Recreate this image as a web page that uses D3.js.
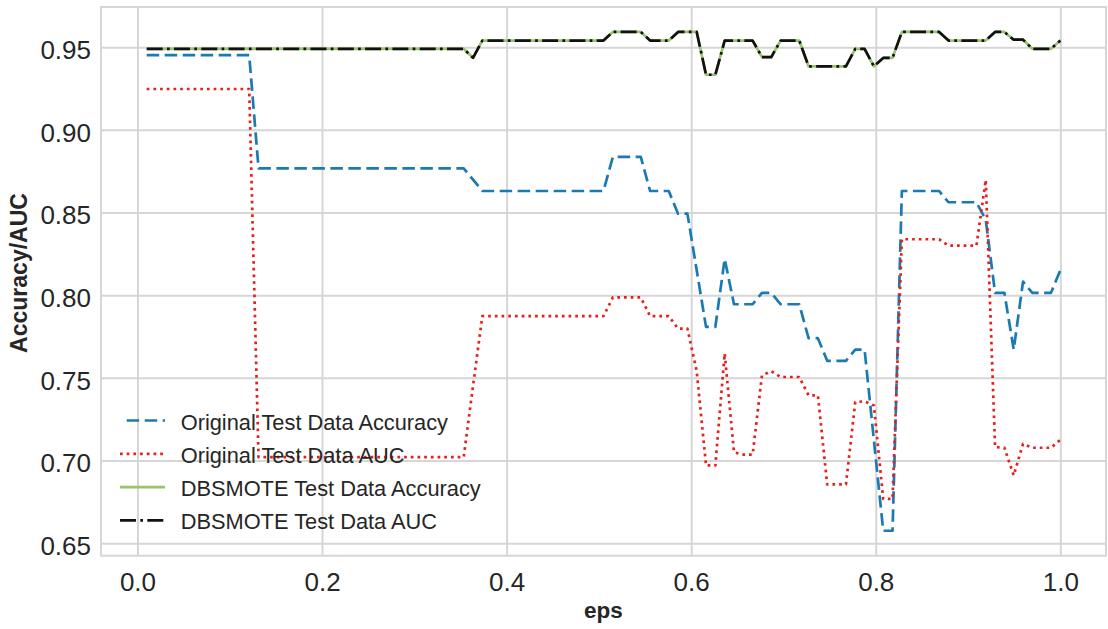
<!DOCTYPE html>
<html>
<head>
<meta charset="utf-8">
<script src="https://cdn.jsdelivr.net/npm/d3@7"></script>
<style>
  html, body { margin: 0; padding: 0; background: #ffffff; }
  svg { display: block; font-family: "Liberation Sans", Arial, Helvetica, sans-serif; }
</style>
</head>
<body>
<svg id="chart" width="1108" height="629"></svg>
<script>
// eps values on the x axis (99 evenly spaced settings from 0.01 to 1.0)
const eps = [
  0.0100, 0.0201, 0.0302, 0.0403, 0.0504, 0.0605, 0.0706, 0.0807, 0.0908, 0.1009,
  0.1110, 0.1211, 0.1312, 0.1413, 0.1514, 0.1615, 0.1716, 0.1817, 0.1918, 0.2019,
  0.2120, 0.2221, 0.2322, 0.2423, 0.2524, 0.2626, 0.2727, 0.2828, 0.2929, 0.3030,
  0.3131, 0.3232, 0.3333, 0.3434, 0.3535, 0.3636, 0.3737, 0.3838, 0.3939, 0.4040,
  0.4141, 0.4242, 0.4343, 0.4444, 0.4545, 0.4646, 0.4747, 0.4848, 0.4949, 0.5050,
  0.5151, 0.5252, 0.5353, 0.5454, 0.5555, 0.5656, 0.5757, 0.5858, 0.5959, 0.6060,
  0.6161, 0.6262, 0.6363, 0.6464, 0.6565, 0.6666, 0.6767, 0.6868, 0.6969, 0.7070,
  0.7171, 0.7272, 0.7373, 0.7474, 0.7576, 0.7677, 0.7778, 0.7879, 0.7980, 0.8081,
  0.8182, 0.8283, 0.8384, 0.8485, 0.8586, 0.8687, 0.8788, 0.8889, 0.8990, 0.9091,
  0.9192, 0.9293, 0.9394, 0.9495, 0.9596, 0.9697, 0.9798, 0.9899, 1.0000
];

// Original test data accuracy
const origAcc = [
  0.9452, 0.9452, 0.9452, 0.9452, 0.9452, 0.9452, 0.9452, 0.9452, 0.9452, 0.9452,
  0.9452, 0.9452, 0.8767, 0.8767, 0.8767, 0.8767, 0.8767, 0.8767, 0.8767, 0.8767,
  0.8767, 0.8767, 0.8767, 0.8767, 0.8767, 0.8767, 0.8767, 0.8767, 0.8767, 0.8767,
  0.8767, 0.8767, 0.8767, 0.8767, 0.8767, 0.8699, 0.8630, 0.8630, 0.8630, 0.8630,
  0.8630, 0.8630, 0.8630, 0.8630, 0.8630, 0.8630, 0.8630, 0.8630, 0.8630, 0.8630,
  0.8836, 0.8836, 0.8836, 0.8836, 0.8630, 0.8630, 0.8630, 0.8493, 0.8493, 0.8151,
  0.7808, 0.7808, 0.8219, 0.7945, 0.7945, 0.7945, 0.8014, 0.8014, 0.7945, 0.7945,
  0.7945, 0.7740, 0.7740, 0.7603, 0.7603, 0.7603, 0.7671, 0.7671, 0.7123, 0.6575,
  0.6575, 0.8630, 0.8630, 0.8630, 0.8630, 0.8630, 0.8562, 0.8562, 0.8562, 0.8562,
  0.8455, 0.8014, 0.8014, 0.7671, 0.8082, 0.8014, 0.8014, 0.8014, 0.8151
];

// Original test data AUC
const origAuc = [
  0.9247, 0.9247, 0.9247, 0.9247, 0.9247, 0.9247, 0.9247, 0.9247, 0.9247, 0.9247,
  0.9247, 0.9247, 0.7020, 0.7020, 0.7020, 0.7020, 0.7020, 0.7020, 0.7020, 0.7020,
  0.7020, 0.7020, 0.7020, 0.7020, 0.7020, 0.7020, 0.7020, 0.7020, 0.7020, 0.7020,
  0.7020, 0.7020, 0.7020, 0.7020, 0.7020, 0.7450, 0.7873, 0.7873, 0.7873, 0.7873,
  0.7873, 0.7873, 0.7873, 0.7873, 0.7873, 0.7873, 0.7873, 0.7873, 0.7873, 0.7873,
  0.7986, 0.7986, 0.7986, 0.7986, 0.7873, 0.7873, 0.7873, 0.7798, 0.7798, 0.7540,
  0.6970, 0.6970, 0.7647, 0.7050, 0.7036, 0.7036, 0.7515, 0.7540, 0.7505, 0.7505,
  0.7505, 0.7394, 0.7394, 0.6855, 0.6855, 0.6855, 0.7353, 0.7358, 0.7333, 0.6768,
  0.6768, 0.8338, 0.8338, 0.8338, 0.8338, 0.8338, 0.8299, 0.8299, 0.8299, 0.8299,
  0.8697, 0.7081, 0.7077, 0.6910, 0.7101, 0.7077, 0.7077, 0.7077, 0.7125
];

// DBSMOTE test data accuracy
const dbsAcc = [
  0.9490, 0.9490, 0.9490, 0.9490, 0.9490, 0.9490, 0.9490, 0.9490, 0.9490, 0.9490,
  0.9490, 0.9490, 0.9490, 0.9490, 0.9490, 0.9490, 0.9490, 0.9490, 0.9490, 0.9490,
  0.9490, 0.9490, 0.9490, 0.9490, 0.9490, 0.9490, 0.9490, 0.9490, 0.9490, 0.9490,
  0.9490, 0.9490, 0.9490, 0.9490, 0.9490, 0.9435, 0.9540, 0.9540, 0.9540, 0.9540,
  0.9540, 0.9540, 0.9540, 0.9540, 0.9540, 0.9540, 0.9540, 0.9540, 0.9540, 0.9540,
  0.9592, 0.9592, 0.9592, 0.9592, 0.9540, 0.9540, 0.9540, 0.9592, 0.9592, 0.9592,
  0.9333, 0.9333, 0.9540, 0.9540, 0.9540, 0.9540, 0.9440, 0.9440, 0.9540, 0.9540,
  0.9540, 0.9384, 0.9384, 0.9384, 0.9384, 0.9384, 0.9490, 0.9490, 0.9384, 0.9435,
  0.9435, 0.9592, 0.9592, 0.9592, 0.9592, 0.9592, 0.9540, 0.9540, 0.9540, 0.9540,
  0.9540, 0.9592, 0.9592, 0.9545, 0.9545, 0.9490, 0.9490, 0.9490, 0.9540
];

// DBSMOTE test data AUC
const dbsAuc = [
  0.9490, 0.9490, 0.9490, 0.9490, 0.9490, 0.9490, 0.9490, 0.9490, 0.9490, 0.9490,
  0.9490, 0.9490, 0.9490, 0.9490, 0.9490, 0.9490, 0.9490, 0.9490, 0.9490, 0.9490,
  0.9490, 0.9490, 0.9490, 0.9490, 0.9490, 0.9490, 0.9490, 0.9490, 0.9490, 0.9490,
  0.9490, 0.9490, 0.9490, 0.9490, 0.9490, 0.9435, 0.9540, 0.9540, 0.9540, 0.9540,
  0.9540, 0.9540, 0.9540, 0.9540, 0.9540, 0.9540, 0.9540, 0.9540, 0.9540, 0.9540,
  0.9592, 0.9592, 0.9592, 0.9592, 0.9540, 0.9540, 0.9540, 0.9592, 0.9592, 0.9592,
  0.9333, 0.9333, 0.9540, 0.9540, 0.9540, 0.9540, 0.9440, 0.9440, 0.9540, 0.9540,
  0.9540, 0.9384, 0.9384, 0.9384, 0.9384, 0.9384, 0.9490, 0.9490, 0.9384, 0.9435,
  0.9435, 0.9592, 0.9592, 0.9592, 0.9592, 0.9592, 0.9540, 0.9540, 0.9540, 0.9540,
  0.9540, 0.9592, 0.9592, 0.9545, 0.9545, 0.9490, 0.9490, 0.9490, 0.9540
];

const seriesNames = [
  "Original Test Data Accuracy",
  "Original Test Data AUC",
  "DBSMOTE Test Data Accuracy",
  "DBSMOTE Test Data AUC"
];

const xTicks = [0.0, 0.2, 0.4, 0.6, 0.8, 1.0];
const yTicks = [0.65, 0.70, 0.75, 0.80, 0.85, 0.90, 0.95];
const xTitle = "eps";
const yTitle = "Accuracy/AUC";

// ---- layout and styling ----
const box = { left: 101, top: 7, right: 1106, bottom: 555.7 };
const gridColor = "#d6d6d6";
const textColor = "#262626";

const series = [
  { name: seriesNames[0], values: origAcc, color: "#1b7ab3", dash: "12.5,5.5", width: 2.7, legendStart: 126.7 },
  { name: seriesNames[1], values: origAuc, color: "#e3221d", dash: "2.7,4.0", width: 2.7, legendStart: 120 },
  { name: seriesNames[2], values: dbsAcc, color: "#97c46c", dash: null, width: 2.7, legendStart: 120 },
  { name: seriesNames[3], values: dbsAuc, color: "#111111", dash: "16,4.3,2.7,4.3", width: 2.7, legendStart: 120 }
];

// Axis limits padded by 5% of the data span on each side
const [xMin, xMax] = d3.extent(eps);
const xPad = (xMax - xMin) * 0.05;
const allValues = series.flatMap(s => s.values);
const [yMin, yMax] = d3.extent(allValues);
const yPad = (yMax - yMin) * 0.05;

const x = d3.scaleLinear().domain([xMin - xPad, xMax + xPad]).range([box.left, box.right]);
const y = d3.scaleLinear().domain([yMin - yPad, yMax + yPad]).range([box.bottom, box.top]);

const svg = d3.select("#chart");
svg.append("rect").attr("width", 1108).attr("height", 629).attr("fill", "#ffffff");

// Horizontal grid and y tick labels
const yAxis = d3.axisLeft(y)
  .tickValues(yTicks)
  .tickFormat(d3.format(".2f"))
  .tickSize(-(box.right - box.left))
  .tickPadding(10);

const gy = svg.append("g").attr("transform", `translate(${box.left},0)`).call(yAxis);
gy.select(".domain").remove();
gy.selectAll(".tick line").attr("stroke", gridColor).attr("stroke-width", 2);
gy.selectAll(".tick text")
  .attr("fill", textColor)
  .attr("font-size", 26)
  .attr("font-family", "Liberation Sans, Arial, sans-serif")
  .attr("dy", "0.44em");

// Vertical grid and x tick labels
const xAxis = d3.axisBottom(x)
  .tickValues(xTicks)
  .tickFormat(d3.format(".1f"))
  .tickSize(-(box.bottom - box.top))
  .tickPadding(10);

const gx = svg.append("g").attr("transform", `translate(0,${box.bottom})`).call(xAxis);
gx.select(".domain").remove();
gx.selectAll(".tick line").attr("stroke", gridColor).attr("stroke-width", 2);
gx.selectAll(".tick text")
  .attr("fill", textColor)
  .attr("font-size", 26)
  .attr("font-family", "Liberation Sans, Arial, sans-serif")
  .attr("y", 35)
  .attr("dy", 0);

// Axes frame
svg.append("rect")
  .attr("x", box.left)
  .attr("y", box.top)
  .attr("width", box.right - box.left)
  .attr("height", box.bottom - box.top)
  .attr("fill", "none")
  .attr("stroke", gridColor)
  .attr("stroke-width", 2);

// Series lines
svg.append("clipPath").attr("id", "plot-clip")
  .append("rect")
  .attr("x", box.left).attr("y", box.top)
  .attr("width", box.right - box.left).attr("height", box.bottom - box.top);

const line = d3.line()
  .x((d, i) => x(eps[i]))
  .y(d => y(d));

const gLines = svg.append("g").attr("clip-path", "url(#plot-clip)");
series.forEach(s => {
  gLines.append("path")
    .datum(s.values)
    .attr("d", line)
    .attr("fill", "none")
    .attr("stroke", s.color)
    .attr("stroke-width", s.width)
    .attr("stroke-dasharray", s.dash)
    .attr("stroke-linejoin", "round");
});

// Axis titles
svg.append("text")
  .attr("transform", "translate(27,273) rotate(-90)")
  .attr("text-anchor", "middle")
  .attr("font-size", 23)
  .attr("font-weight", "bold")
  .attr("fill", textColor)
  .text(yTitle);

svg.append("text")
  .attr("x", (box.left + box.right) / 2)
  .attr("y", 618)
  .attr("text-anchor", "middle")
  .attr("font-size", 22.5)
  .attr("font-weight", "bold")
  .attr("fill", textColor)
  .text(xTitle);

// Legend (no frame, drawn over the lines)
const legend = svg.append("g");
series.forEach((s, i) => {
  const rowY = 420.5 + i * 33.3;
  legend.append("line")
    .attr("x1", s.legendStart).attr("x2", 165)
    .attr("y1", rowY).attr("y2", rowY)
    .attr("stroke", s.color)
    .attr("stroke-width", s.width)
    .attr("stroke-dasharray", s.dash);
  legend.append("text")
    .attr("x", 180.7)
    .attr("y", rowY + 9)
    .attr("font-size", 21.8)
    .attr("fill", textColor)
    .text(s.name);
});
</script>
</body>
</html>
